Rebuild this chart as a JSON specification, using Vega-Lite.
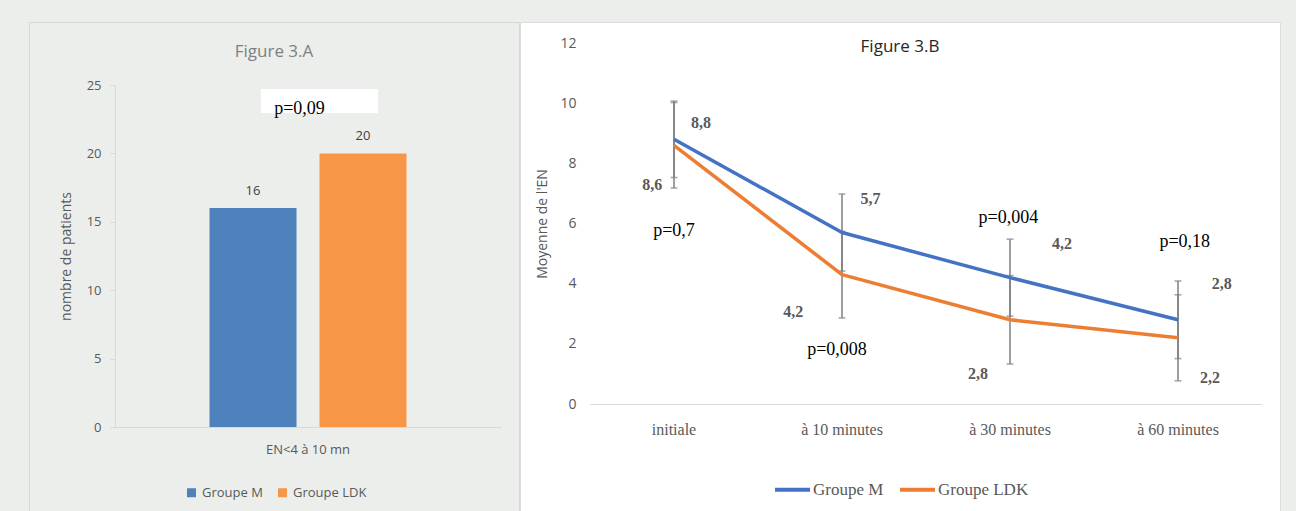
{
  "$schema": "https://vega.github.io/schema/vega-lite/v6.json",
  "background": "#eceeec",
  "padding": {"left": 28, "top": 21, "right": 16, "bottom": 0},
  "spacing": -2,
  "resolve": {"scale": {"color": "independent"}, "legend": {"color": "independent"}},
  "config": {"font": "Open Sans", "view": {"stroke": null}},
  "datasets": {
    "bars": [
      {"category": "EN<4 à 10 mn", "group": "Groupe M", "patients": 16},
      {"category": "EN<4 à 10 mn", "group": "Groupe LDK", "patients": 20}
    ],
    "barNote": [
      {"category": "EN<4 à 10 mn", "label": "p=0,09", "top": 24.7, "bottom": 22.95}
    ],
    "means": [
      {"time": "initiale", "group": "Groupe M", "mean": 8.8, "lo": 7.53, "hi": 10.07},
      {"time": "à 10 minutes", "group": "Groupe M", "mean": 5.7, "lo": 4.42, "hi": 6.98},
      {"time": "à 30 minutes", "group": "Groupe M", "mean": 4.2, "lo": 2.92, "hi": 5.48},
      {"time": "à 60 minutes", "group": "Groupe M", "mean": 2.8, "lo": 1.51, "hi": 4.09},
      {"time": "initiale", "group": "Groupe LDK", "mean": 8.6, "lo": 7.18, "hi": 10.02},
      {"time": "à 10 minutes", "group": "Groupe LDK", "mean": 4.3, "lo": 2.86, "hi": 5.74},
      {"time": "à 30 minutes", "group": "Groupe LDK", "mean": 2.8, "lo": 1.33, "hi": 4.27},
      {"time": "à 60 minutes", "group": "Groupe LDK", "mean": 2.2, "lo": 0.77, "hi": 3.63}
    ],
    "valueLabels": [
      {"time": "initiale", "text": "8,8", "lx": 0.16, "ly": 9.34},
      {"time": "initiale", "text": "8,6", "lx": -0.13, "ly": 7.28},
      {"time": "à 10 minutes", "text": "5,7", "lx": 0.17, "ly": 6.82},
      {"time": "à 10 minutes", "text": "4,2", "lx": -0.29, "ly": 3.06},
      {"time": "à 30 minutes", "text": "4,2", "lx": 0.31, "ly": 5.32},
      {"time": "à 30 minutes", "text": "2,8", "lx": -0.19, "ly": 1.0},
      {"time": "à 60 minutes", "text": "2,8", "lx": 0.26, "ly": 3.99},
      {"time": "à 60 minutes", "text": "2,2", "lx": 0.19, "ly": 0.86}
    ],
    "pLabels": [
      {"time": "initiale", "text": "p=0,7", "lx": 0.0, "ly": 5.75},
      {"time": "à 10 minutes", "text": "p=0,008", "lx": -0.03, "ly": 1.8},
      {"time": "à 30 minutes", "text": "p=0,004", "lx": -0.01, "ly": 6.18},
      {"time": "à 60 minutes", "text": "p=0,18", "lx": 0.04, "ly": 5.39}
    ]
  },
  "hconcat": [
    {
      "width": 490,
      "height": 490,
      "view": {"fill": "#eceeec", "stroke": "#d6d8d6"},
      "title": {"text": "Figure 3.A", "font": "Open Sans", "fontSize": 17, "fontWeight": "normal", "color": "#7f7f7f", "anchor": "middle", "frame": "group", "offset": 0, "baseline": "middle", "dy": 47},
      "layer": [
        {
          "data": {"name": "bars"},
          "mark": {"type": "bar"},
          "encoding": {
            "x": {"field": "category", "type": "nominal", "title": null,
              "scale": {"range": [86, 472], "paddingInner": 0, "paddingOuter": 0},
              "axis": {"orient": "bottom", "offset": -85, "domainColor": "#d9d9d9", "domainWidth": 1, "ticks": false, "tickSize": 0, "labelFont": "Open Sans", "labelFontSize": 13, "labelColor": "#595959", "labelPadding": 16, "labelAngle": 0}},
            "xOffset": {"field": "group", "type": "nominal", "sort": ["Groupe M", "Groupe LDK"], "scale": {"paddingInner": 0.209, "paddingOuter": 0.859}},
            "y": {"field": "patients", "type": "quantitative", "title": "nombre de patients",
              "scale": {"domain": [0, 25], "range": [405, 63], "nice": false},
              "axis": {"orient": "left", "offset": -86, "values": [0, 5, 10, 15, 20, 25], "grid": false, "domainColor": "#d9d9d9", "tickColor": "#d9d9d9", "tickSize": 5, "labelPadding": 9, "labelFont": "Open Sans", "labelFontSize": 13, "labelColor": "#595959", "titleFont": "Open Sans", "titleFontSize": 14, "titleFontWeight": "normal", "titleColor": "#595959", "titlePadding": 13}},
            "color": {"field": "group", "type": "nominal", "sort": ["Groupe M", "Groupe LDK"],
              "scale": {"domain": ["Groupe M", "Groupe LDK"], "range": ["#4f81bd", "#f79646"]},
              "legend": {"orient": "none", "legendX": 156, "legendY": 464, "direction": "horizontal", "title": null, "symbolType": "square", "symbolSize": 81, "symbolStrokeWidth": 0, "labelFont": "Open Sans", "labelFontSize": 13, "labelColor": "#595959", "labelOffset": 4, "columnPadding": 13}}
          }
        },
        {
          "data": {"name": "bars"},
          "mark": {"type": "text", "font": "Open Sans", "fontSize": 13, "color": "#404040", "baseline": "middle", "dy": -17},
          "encoding": {
            "x": {"field": "category", "type": "nominal", "title": null},
            "xOffset": {"field": "group", "type": "nominal", "sort": ["Groupe M", "Groupe LDK"]},
            "y": {"field": "patients", "type": "quantitative", "title": "nombre de patients"},
            "text": {"field": "patients", "type": "quantitative"}
          }
        },
        {
          "data": {"name": "barNote"},
          "mark": {"type": "bar", "width": 117, "xOffset": 11.5, "color": "#ffffff"},
          "encoding": {
            "x": {"field": "category", "type": "nominal", "title": null},
            "y": {"field": "top", "type": "quantitative", "title": "nombre de patients"},
            "y2": {"field": "bottom"}
          }
        },
        {
          "data": {"name": "barNote"},
          "mark": {"type": "text", "font": "Liberation Serif", "fontSize": 18, "color": "#000000", "baseline": "alphabetic", "dx": -8.5, "dy": 1},
          "encoding": {
            "x": {"field": "category", "type": "nominal", "title": null},
            "y": {"field": "bottom", "type": "quantitative", "title": "nombre de patients"},
            "text": {"field": "label", "type": "nominal"}
          }
        }
      ]
    },
    {
      "width": 760,
      "height": 490,
      "view": {"fill": "#ffffff", "stroke": "#dcdcdc"},
      "title": {"text": "Figure 3.B", "font": "Open Sans", "fontSize": 17, "fontWeight": "normal", "color": "#262626", "anchor": "middle", "frame": "group", "offset": 0, "baseline": "middle", "dy": 42},
      "layer": [
        {
          "data": {"name": "means"},
          "mark": {"type": "rule", "color": "#7f7f7f", "strokeWidth": 1.5},
          "encoding": {
            "x": {"field": "time", "type": "nominal", "title": null, "sort": ["initiale", "à 10 minutes", "à 30 minutes", "à 60 minutes"],
              "scale": {"range": [70, 742], "paddingInner": 0, "paddingOuter": 0},
              "axis": {"orient": "bottom", "offset": -108, "domainColor": "#d9d9d9", "domainWidth": 1, "ticks": false, "tickSize": 0, "labelFont": "Liberation Serif", "labelFontSize": 16, "labelColor": "#595959", "labelPadding": 17, "labelAngle": 0}},
            "y": {"field": "lo", "type": "quantitative", "title": "Moyenne de l'EN",
              "scale": {"domain": [0, 12], "range": [382, 21], "nice": false},
              "axis": {"orient": "left", "offset": -70, "values": [0, 2, 4, 6, 8, 10, 12], "grid": false, "domain": false, "ticks": false, "tickSize": 0, "labelPadding": 14, "labelFont": "Open Sans", "labelFontSize": 14, "labelColor": "#595959", "titleFont": "Open Sans", "titleFontSize": 14, "titleFontWeight": "normal", "titleColor": "#595959", "titlePadding": 10}},
            "y2": {"field": "hi"}
          }
        },
        {
          "data": {"name": "means"},
          "mark": {"type": "tick", "color": "#7f7f7f", "thickness": 1.5, "size": 7, "orient": "horizontal"},
          "encoding": {
            "x": {"field": "time", "type": "nominal", "title": null, "sort": ["initiale", "à 10 minutes", "à 30 minutes", "à 60 minutes"]},
            "y": {"field": "lo", "type": "quantitative", "title": "Moyenne de l'EN"}
          }
        },
        {
          "data": {"name": "means"},
          "mark": {"type": "tick", "color": "#7f7f7f", "thickness": 1.5, "size": 7, "orient": "horizontal"},
          "encoding": {
            "x": {"field": "time", "type": "nominal", "title": null, "sort": ["initiale", "à 10 minutes", "à 30 minutes", "à 60 minutes"]},
            "y": {"field": "hi", "type": "quantitative", "title": "Moyenne de l'EN"}
          }
        },
        {
          "data": {"name": "means"},
          "mark": {"type": "line", "strokeWidth": 3.5, "strokeJoin": "round"},
          "encoding": {
            "x": {"field": "time", "type": "nominal", "title": null, "sort": ["initiale", "à 10 minutes", "à 30 minutes", "à 60 minutes"]},
            "y": {"field": "mean", "type": "quantitative", "title": "Moyenne de l'EN"},
            "color": {"field": "group", "type": "nominal", "sort": ["Groupe M", "Groupe LDK"],
              "scale": {"domain": ["Groupe M", "Groupe LDK"], "range": ["#4472c4", "#ed7d31"]},
              "legend": {"orient": "none", "legendX": 253, "legendY": 448, "direction": "horizontal", "title": null, "symbolType": "stroke", "symbolStrokeWidth": 4, "symbolSize": 1225, "labelFont": "Liberation Serif", "labelFontSize": 17, "labelColor": "#595959", "labelOffset": 1, "columnPadding": 8}}
          }
        },
        {
          "data": {"name": "valueLabels"},
          "mark": {"type": "text", "font": "Liberation Serif", "fontSize": 16, "fontWeight": "bold", "color": "#595959", "baseline": "middle"},
          "encoding": {
            "x": {"field": "time", "type": "nominal", "title": null, "sort": ["initiale", "à 10 minutes", "à 30 minutes", "à 60 minutes"]},
            "xOffset": {"field": "lx", "type": "quantitative", "scale": {"domain": [-0.5, 0.5], "zero": false, "nice": false}},
            "y": {"field": "ly", "type": "quantitative", "title": "Moyenne de l'EN"},
            "text": {"field": "text", "type": "nominal"}
          }
        },
        {
          "data": {"name": "pLabels"},
          "mark": {"type": "text", "font": "Liberation Serif", "fontSize": 18, "color": "#000000", "baseline": "middle"},
          "encoding": {
            "x": {"field": "time", "type": "nominal", "title": null, "sort": ["initiale", "à 10 minutes", "à 30 minutes", "à 60 minutes"]},
            "xOffset": {"field": "lx", "type": "quantitative", "scale": {"domain": [-0.5, 0.5], "zero": false, "nice": false}},
            "y": {"field": "ly", "type": "quantitative", "title": "Moyenne de l'EN"},
            "text": {"field": "text", "type": "nominal"}
          }
        }
      ]
    }
  ]
}
